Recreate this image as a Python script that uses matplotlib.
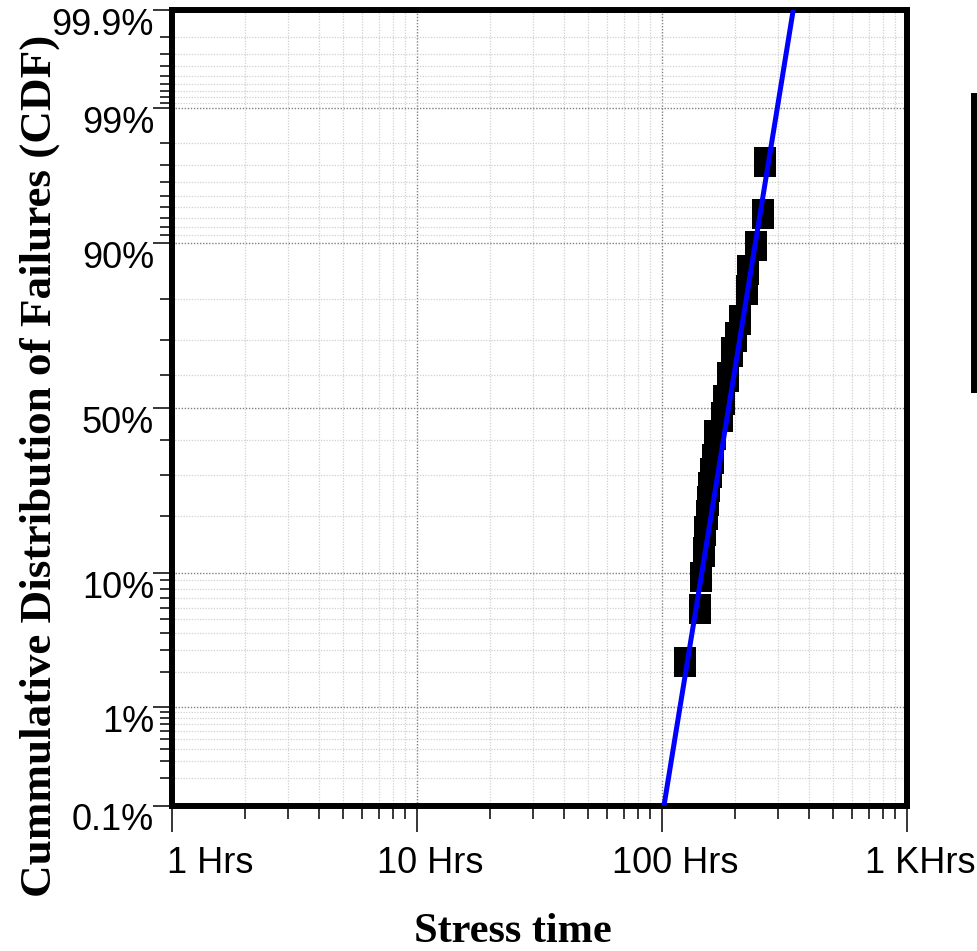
import math
import numpy as np
import matplotlib
matplotlib.use("Agg")
import matplotlib.pyplot as plt
from matplotlib.ticker import FixedLocator, NullFormatter
from matplotlib.patches import Rectangle

# ---------------- data ----------------
fail_times = [124.5, 143.3, 145.6, 148.8, 151.2, 152.7, 154.8, 156.6, 158.5,
              161.6, 165.1, 175.8, 179.1, 187.7, 193.1, 200.5, 210.1, 222.3,
              224.4, 244.2, 258.4, 264.0]
fail_cdf = [2.4, 5.9, 9.4, 13.1, 16.8, 20.3, 23.3, 26.8, 30.7, 34.6, 41.7,
            47.2, 52.5, 59.5, 66.8, 70.9, 75.1, 82.0, 85.8, 89.5, 93.4, 97.2]

fit_times = [102.4, 345.0]
fit_cdf = [0.1, 99.9]

y_major = [0.1, 1, 10, 50, 90, 99, 99.9]
y_major_labels = ["0.1%", "1%", "10%", "50%", "90%", "99%", "99.9%"]
y_minor = ([0.2, 0.3, 0.4, 0.5, 0.6, 0.7, 0.8, 0.9] +
           [2, 3, 4, 5, 6, 7, 8, 9] + [20, 30, 40, 60, 70, 80] +
           [91, 92, 93, 94, 95, 96, 97, 98] +
           [99.1, 99.2, 99.3, 99.4, 99.5, 99.6, 99.7, 99.8])
x_major = [1, 10, 100, 1000]
x_major_labels = ["1 Hrs", "10 Hrs", "100 Hrs", "1 KHrs"]
x_minor = [m * d for d in (1, 10, 100) for m in range(2, 10)]

# ---------------- probit scale helpers ----------------
_a = [-3.969683028665376e+01, 2.209460984245205e+02, -2.759285104469687e+02,
      1.383577518672690e+02, -3.066479806614716e+01, 2.506628277459239e+00]
_b = [-5.447609879822406e+01, 1.615858368580409e+02, -1.556989798598866e+02,
      6.680131188771972e+01, -1.328068155288572e+01]
_c = [-7.784894002430293e-03, -3.223964580411365e-01, -2.400758277161838e+00,
      -2.549732539343734e+00, 4.374664141464968e+00, 2.938163982698783e+00]
_d = [7.784695709041462e-03, 3.224671290700398e-01, 2.445134137142996e+00,
      3.754408661907416e+00]


def _ppf_scalar(p):
    plow = 0.02425
    if p < plow:
        q = math.sqrt(-2 * math.log(p))
        return (((((_c[0]*q+_c[1])*q+_c[2])*q+_c[3])*q+_c[4])*q+_c[5]) / \
               ((((_d[0]*q+_d[1])*q+_d[2])*q+_d[3])*q+1)
    if p > 1 - plow:
        q = math.sqrt(-2 * math.log(1 - p))
        return -(((((_c[0]*q+_c[1])*q+_c[2])*q+_c[3])*q+_c[4])*q+_c[5]) / \
                ((((_d[0]*q+_d[1])*q+_d[2])*q+_d[3])*q+1)
    q = p - 0.5
    r = q * q
    return (((((_a[0]*r+_a[1])*r+_a[2])*r+_a[3])*r+_a[4])*r+_a[5])*q / \
           (((((_b[0]*r+_b[1])*r+_b[2])*r+_b[3])*r+_b[4])*r+1)


def probit_forward(pct):
    pct = np.asarray(pct, dtype=float)
    out = np.empty_like(pct)
    flat = pct.ravel()
    res = out.ravel()
    for i, v in enumerate(flat):
        if not np.isfinite(v):
            res[i] = np.nan
            continue
        p = min(max(v / 100.0, 1e-12), 1 - 1e-12)
        res[i] = _ppf_scalar(p)
    return res.reshape(pct.shape)


def probit_inverse(z):
    z = np.asarray(z, dtype=float)
    f = np.vectorize(lambda t: 50.0 * (1 + math.erf(t / math.sqrt(2))))
    return f(z)


# ---------------- figure ----------------
W, H, DPI = 977, 951, 100
fig = plt.figure(figsize=(W / DPI, H / DPI), dpi=DPI)
fig.patch.set_facecolor("white")

L, R, T, B = 171.5, 906.5, 9.7, 805.5
ax = fig.add_axes([L / W, 1 - B / H, (R - L) / W, (B - T) / H])

ax.set_xscale("log")
ax.set_yscale("function", functions=(probit_forward, probit_inverse))
ax.set_xlim(1, 1000)
ax.set_ylim(0.1, 99.9)

ax.xaxis.set_major_locator(FixedLocator(x_major))
ax.xaxis.set_minor_locator(FixedLocator(x_minor))
ax.yaxis.set_major_locator(FixedLocator(y_major))
ax.yaxis.set_minor_locator(FixedLocator(y_minor))
for axis in (ax.xaxis, ax.yaxis):
    axis.set_major_formatter(NullFormatter())
    axis.set_minor_formatter(NullFormatter())

ax.grid(which="major", color="#808080", linestyle=(0, (1, 1.2)), lw=1.0)
ax.grid(which="minor", color="#d0d0d0", linestyle=(0, (1, 1.2)), lw=0.9)
ax.set_axisbelow(True)

for s in ax.spines.values():
    s.set_linewidth(4.3)
    s.set_color("black")

ax.tick_params(axis="y", which="major", direction="out", length=13.7,
               width=1.1, color="black", left=True, right=False)
ax.tick_params(axis="y", which="minor", direction="out", length=8.6,
               width=1.1, color="black", left=True, right=False)
ax.tick_params(axis="x", which="major", direction="out", length=19,
               width=1.1, color="black", bottom=True, top=False)
ax.tick_params(axis="x", which="minor", direction="out", length=9,
               width=1.1, color="black", bottom=True, top=False)

# data squares (rectangular markers)
rect_marker = [(-0.38, -0.5), (0.38, -0.5), (0.38, 0.5), (-0.38, 0.5), (-0.38, -0.5)]
ax.plot(fail_times, fail_cdf, linestyle="none", marker=rect_marker,
        markersize=20.9, markerfacecolor="black", markeredgewidth=0,
        zorder=3, clip_on=False)

# fitted line
ax.plot(fit_times, fit_cdf, color="#0000ff", lw=3.6, zorder=4,
        solid_capstyle="butt")

px = 0.72  # points per pixel at 100 dpi
tick_font = dict(family=["Liberation Sans", "DejaVu Sans"], fontsize=26)

for val, lab in zip(y_major, y_major_labels):
    ax.annotate(lab, xy=(0, val), xycoords=("axes fraction", "data"),
                xytext=(-17.5 * px, -25 * px), textcoords="offset points",
                ha="right", va="baseline", annotation_clip=False, **tick_font)

x_label_dx = [38.5, 13.5, 14, 13.5]
for val, lab, dx in zip(x_major, x_major_labels, x_label_dx):
    ax.annotate(lab, xy=(val, 0), xycoords=("data", "axes fraction"),
                xytext=(dx * px, -67.5 * px), textcoords="offset points",
                ha="center", va="baseline", annotation_clip=False, **tick_font)

label_font = dict(family=["Liberation Serif", "DejaVu Serif"], fontweight="bold")
fig.text(512.5 / W, 1 - 942 / H, "Stress time", ha="center", va="baseline",
         fontsize=30.5, **label_font)
fig.text(51 / W, 1 - 466 / H, "Cummulative Distribution of Failures (CDF)",
         rotation=90, rotation_mode="anchor", ha="center", va="baseline",
         fontsize=32.5, **label_font)

# partially visible legend box at the right edge
fig.add_artist(Rectangle((974 / W, 1 - 390 / H), 0.2, (390 - 96) / H,
                         transform=fig.transFigure, facecolor="white",
                         edgecolor="black", lw=4.3, clip_on=False))

fig.savefig("out.png", dpi=DPI)
